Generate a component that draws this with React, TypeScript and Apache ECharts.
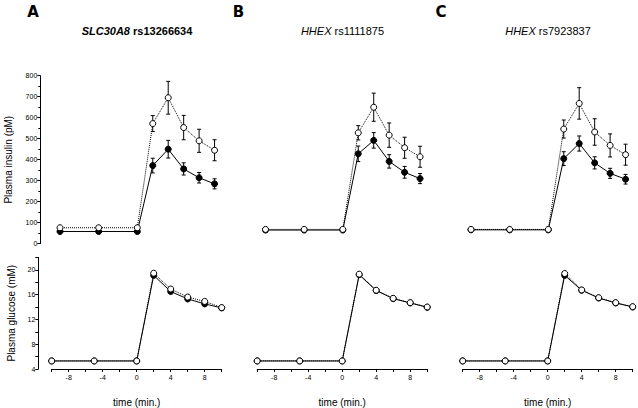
import React, { useEffect, useRef } from 'react';
import * as echarts from 'echarts';

const timePoints = [-10, -5, 0, 2, 4, 6, 8, 10];
const panelLetters = ['A', 'B', 'C'];
const geneNames = ['SLC30A8', 'HHEX', 'HHEX'];
const snpNames = ['rs13266634', 'rs1111875', 'rs7923837'];

// Insulin (pM): open circles (dotted) and filled circles (solid), with SEM
const insulinOpenA = [76, 76, 76, 572, 695, 553, 490, 445];
const insulinOpenErrA = [0, 0, 0, 38, 78, 58, 55, 50];
const insulinFilledA = [58, 58, 58, 372, 450, 356, 314, 285];
const insulinFilledErrA = [0, 0, 0, 35, 42, 29, 25, 24];

const insulinOpenB = [68, 68, 68, 528, 650, 517, 457, 414];
const insulinOpenErrB = [0, 0, 0, 34, 67, 58, 50, 50];
const insulinFilledB = [65, 65, 65, 428, 492, 392, 340, 310];
const insulinFilledErrB = [0, 0, 0, 37, 37, 32, 28, 24];

const insulinOpenC = [68, 68, 68, 546, 668, 532, 468, 424];
const insulinOpenErrC = [0, 0, 0, 43, 75, 63, 55, 50];
const insulinFilledC = [66, 66, 66, 405, 477, 385, 335, 307];
const insulinFilledErrC = [0, 0, 0, 33, 36, 29, 24, 23];

// Glucose (mM)
const glucoseOpenA = [5.3, 5.3, 5.3, 19.45, 16.9, 15.6, 14.9, 13.9];
const glucoseFilledA = [5.3, 5.3, 5.3, 19.1, 16.5, 15.3, 14.5, 13.85];
const glucoseOpenB = [5.3, 5.3, 5.3, 19.3, 16.7, 15.4, 14.7, 14.0];
const glucoseFilledB = [5.3, 5.3, 5.3, 19.2, 16.65, 15.35, 14.65, 13.95];
const glucoseOpenC = [5.3, 5.3, 5.3, 19.4, 16.75, 15.5, 14.7, 14.05];
const glucoseFilledC = [5.3, 5.3, 5.3, 19.1, 16.7, 15.45, 14.65, 14.0];

const insulinOpen = [insulinOpenA, insulinOpenB, insulinOpenC];
const insulinOpenErr = [insulinOpenErrA, insulinOpenErrB, insulinOpenErrC];
const insulinFilled = [insulinFilledA, insulinFilledB, insulinFilledC];
const insulinFilledErr = [insulinFilledErrA, insulinFilledErrB, insulinFilledErrC];
const glucoseOpen = [glucoseOpenA, glucoseOpenB, glucoseOpenC];
const glucoseFilled = [glucoseFilledA, glucoseFilledB, glucoseFilledC];

const FONT = 'Liberation Sans, Arial, sans-serif';

function pairs(xs: number[], ys: number[]) {
  return xs.map((x, i) => [x, ys[i]]);
}
function errData(xs: number[], ys: number[], es: number[]) {
  const out: number[][] = [];
  xs.forEach((x, i) => {
    if (es[i] > 0) out.push([x, ys[i] - es[i], ys[i] + es[i]]);
  });
  return out;
}

const errRender = (params: any, api: any) => {
  const x = api.value(0);
  const lo = api.coord([x, api.value(1)]);
  const hi = api.coord([x, api.value(2)]);
  const w = 2;
  const st = { stroke: '#000', lineWidth: 1 };
  return {
    type: 'group',
    children: [
      { type: 'line', shape: { x1: lo[0], y1: lo[1], x2: hi[0], y2: hi[1] }, style: st },
      { type: 'line', shape: { x1: lo[0] - w, y1: lo[1], x2: lo[0] + w, y2: lo[1] }, style: st },
      { type: 'line', shape: { x1: hi[0] - w, y1: hi[1], x2: hi[0] + w, y2: hi[1] }, style: st },
    ],
  };
};

export default function App() {
  const ref = useRef<HTMLDivElement>(null);
  useEffect(() => {
    if (!ref.current) return;
    const chart = echarts.init(ref.current, null, { renderer: 'svg' });
    const offsets = [0, 205.5, 411];
    const grid: any[] = [];
    const xAxis: any[] = [];
    const yAxis: any[] = [];
    const series: any[] = [];
    const graphic: any[] = [];
    const lineBlack = { lineStyle: { color: '#000', width: 1 } };

    offsets.forEach((off, p) => {
      // top grid (insulin)
      const gt = grid.length;
      grid.push({ left: 52.3 + off, top: 75.7, width: 170, height: 168 });
      xAxis.push({ gridIndex: gt, type: 'value', min: -11, max: 11, show: false });
      yAxis.push({
        gridIndex: gt, type: 'value', min: 0, max: 800, interval: 100, show: p === 0,
        offset: 12,
        axisLine: { show: true, onZero: false, ...lineBlack },
        axisTick: { show: true, length: 3, ...lineBlack },
        minorTick: { show: true, splitNumber: 2, length: 2, ...lineBlack },
        splitLine: { show: false },
        axisLabel: { fontSize: 7, color: '#000', fontFamily: FONT, margin: 3 },
        name: 'Plasma insulin (pM)', nameLocation: 'middle', nameGap: 27,
        nameTextStyle: { fontSize: 10, color: '#000', fontFamily: FONT },
      });
      // bottom grid (glucose)
      const gb = grid.length;
      grid.push({ left: 51.7 + off, top: 257.4, width: 170, height: 113.3 });
      xAxis.push({
        gridIndex: gb, type: 'value', min: -10, max: 10, interval: 2,
        axisLine: { show: true, onZero: false, ...lineBlack },
        axisTick: { show: true, length: 3, ...lineBlack },
        splitLine: { show: false },
        axisLabel: {
          fontSize: 7, color: '#000', fontFamily: FONT, margin: 5,
          formatter: (v: number) => (v % 4 === 0 && Math.abs(v) < 10 ? String(v) : ''),
        },
        name: 'time (min.)', nameLocation: 'middle', nameGap: 28,
        nameTextStyle: { fontSize: 10, color: '#000', fontFamily: FONT },
      });
      yAxis.push({
        gridIndex: gb, type: 'value', min: 4, max: 22, interval: 2, show: p === 0,
        offset: 13.4,
        axisLine: { show: true, onZero: false, ...lineBlack },
        axisTick: { show: true, length: 3, ...lineBlack },
        splitLine: { show: false },
        axisLabel: {
          fontSize: 7, color: '#000', fontFamily: FONT, margin: 3,
          formatter: (v: number) => (v % 4 === 0 ? String(v) : ''),
        },
        name: 'Plasma glucose (mM)', nameLocation: 'middle', nameGap: 22,
        nameTextStyle: { fontSize: 10, color: '#000', fontFamily: FONT },
      });

      // insulin error bars
      series.push({
        type: 'custom', xAxisIndex: gt, yAxisIndex: gt, z: 1,
        data: errData(timePoints, insulinOpen[p], insulinOpenErr[p]), renderItem: errRender,
      });
      series.push({
        type: 'custom', xAxisIndex: gt, yAxisIndex: gt, z: 1,
        data: errData(timePoints, insulinFilled[p], insulinFilledErr[p]), renderItem: errRender,
      });
      // insulin lines
      series.push({
        type: 'line', xAxisIndex: gt, yAxisIndex: gt, z: 3,
        data: pairs(timePoints, insulinFilled[p]),
        symbol: 'circle', symbolSize: 6, showSymbol: true,
        lineStyle: { color: '#000', width: 1, type: 'solid' },
        itemStyle: { color: '#000', borderColor: '#000', borderWidth: 1 },
      });
      series.push({
        type: 'line', xAxisIndex: gt, yAxisIndex: gt, z: 4,
        data: pairs(timePoints, insulinOpen[p]),
        symbol: 'circle', symbolSize: 6, showSymbol: true,
        lineStyle: { color: '#000', width: 1, type: 'dotted' },
        itemStyle: { color: '#fff', borderColor: '#000', borderWidth: 1 },
      });
      // glucose lines
      series.push({
        type: 'line', xAxisIndex: gb, yAxisIndex: gb, z: 3,
        data: pairs(timePoints, glucoseFilled[p]),
        symbol: 'circle', symbolSize: 6, showSymbol: true,
        lineStyle: { color: '#000', width: 1, type: 'solid' },
        itemStyle: { color: '#000', borderColor: '#000', borderWidth: 1 },
      });
      series.push({
        type: 'line', xAxisIndex: gb, yAxisIndex: gb, z: 4,
        data: pairs(timePoints, glucoseOpen[p]),
        symbol: 'circle', symbolSize: 6, showSymbol: true,
        lineStyle: { color: '#000', width: 1, type: 'dotted' },
        itemStyle: { color: '#fff', borderColor: '#000', borderWidth: 1 },
      });

      // panel letter
      graphic.push({
        type: 'text', x: [33, 238.5, 441][p], y: 12,
        style: {
          text: panelLetters[p], fill: '#000', align: 'center', verticalAlign: 'middle',
          font: 'bold 15px "DejaVu Sans", Arial, sans-serif',
        },
      });
      // panel title
      const w = p === 0 ? 'bold' : 'normal';
      graphic.push({
        type: 'text', x: 137 + off, y: 31,
        style: {
          text: `{i|${geneNames[p]}}{n| ${snpNames[p]}}`,
          align: 'center', verticalAlign: 'middle',
          rich: {
            i: { fontStyle: 'italic', fontWeight: w, fontSize: 11, fontFamily: FONT, fill: '#000' },
            n: { fontWeight: w, fontSize: 11, fontFamily: FONT, fill: '#000' },
          },
        },
      });
    });

    chart.setOption({
      animation: false,
      backgroundColor: '#fff',
      grid, xAxis, yAxis, series, graphic,
    });
    return () => chart.dispose();
  }, []);
  return <div ref={ref} style={{ width: 638, height: 408, position: 'absolute', left: 0, top: 0 }} />;
}
